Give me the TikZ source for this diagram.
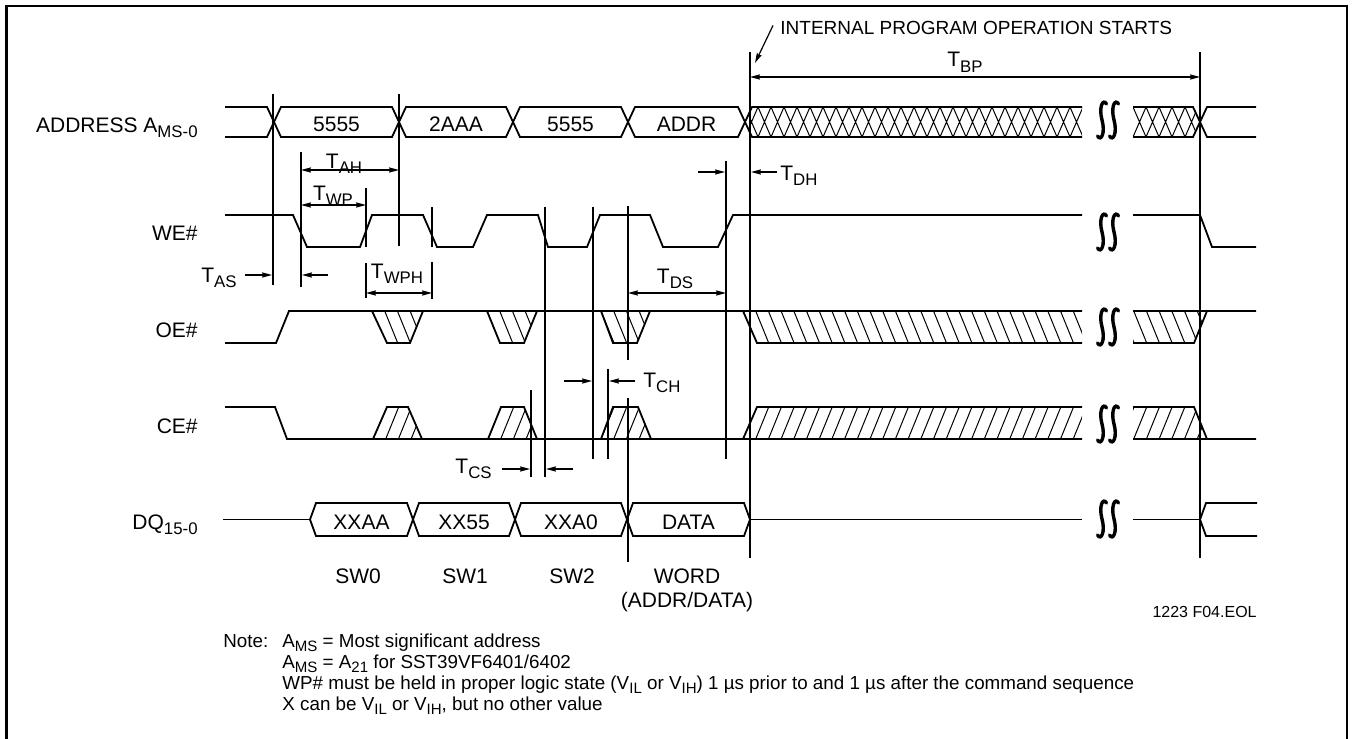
\documentclass[tikz,border=0pt]{standalone}
\usepackage{fontspec}
\setmainfont{Liberation Sans}
\usepackage{tikz}
\usetikzlibrary{arrows.meta,positioning}

\newcommand{\lo}[1]{\raisebox{-0.24em}{\scalebox{0.8}{#1}}}

\tikzset{
  sig/.style={line width=0.9pt,line join=miter},
  guide/.style={line width=0.6pt},
  hatch/.style={line width=0.5pt},
  dim/.style={line width=0.6pt},
  txt/.style={inner sep=0pt,font=\fontsize{10.5}{12}\selectfont},
  head/.style={inner sep=0pt,font=\fontsize{9.5}{11}\selectfont},
  note/.style={inner sep=0pt,font=\fontsize{9.4}{11}\selectfont},
  tag/.style={inner sep=0pt,font=\fontsize{8}{9}\selectfont},
  snip/.pic={
    \foreach \s in {-6,6}
      \draw[line width=1.7pt,line cap=round] (\s+4.5,-16) .. controls (\s+1,-22) and (\s-3.5,-13) .. (\s,0)
        .. controls (\s+3.5,13) and (\s-1,22) .. (\s-4.5,16);
  }
}

\begin{document}
\begin{tikzpicture}[x=0.5pt,y=-0.5pt,>={Stealth[length=5pt,width=2.6pt,inset=0.6pt]}]
	\useasboundingbox (0,0) rectangle (1352,738);
	\draw[line width=1.2pt] (6.5,745) -- (6.5,6) -- (1347,6) -- (1347,745);

	\node[txt,anchor=base east] (addr) at (198,132) {ADDRESS A\lo{MS-0}};
	\node[txt,anchor=base east] (we) at (198,240) {WE\#};
	\node[txt,anchor=base east] (oe) at (198,337) {OE\#};
	\node[txt,anchor=base east] (ce) at (198,433) {CE\#};
	\node[txt,anchor=base east] (dq) at (198,529) {DQ\lo{15-0}};

	% address bus
	\draw[sig] (225,107) -- (267,107) -- (274,122) -- (267,137) -- (225,137);
	\foreach \a/\b/\v/\n in {274/399/5555/va1,399/513/2AAA/va2,513/628/5555/va3,628/745/ADDR/va4}{
		\draw[sig] (\a,122) -- (\a+7,107) -- (\b-7,107) -- (\b,122) -- (\b-7,137) -- (\a+7,137) -- cycle;
		\node[txt,anchor=base] (\n) at ({(\a+\b)/2},131) {\v};
	}
	\begin{scope}
		\clip (745,122) -- (752,107) -- (1082,107) -- (1082,137) -- (752,137) -- cycle;
		\foreach \x in {745,758,...,1085} \draw[hatch] (\x,107) -- ++(13,30) (\x+13,107) -- ++(-13,30);
	\end{scope}
	\draw[sig] (1082,107) -- (752,107) -- (745,122) -- (752,137) -- (1082,137);
	\begin{scope}
		\clip (1133,107) -- (1193,107) -- (1200,122) -- (1193,137) -- (1133,137) -- cycle;
		\foreach \x in {1120,1133,...,1200} \draw[hatch] (\x,107) -- ++(13,30) (\x+13,107) -- ++(-13,30);
	\end{scope}
	\draw[sig] (1133,107) -- (1193,107) -- (1200,122) -- (1193,137) -- (1133,137);
	\draw[sig] (1256,107) -- (1207,107) -- (1200,122) -- (1207,137) -- (1256,137);

	% WE#
	\draw[sig] (225,215) -- (293,215) -- (307,247) -- (360,247) -- (372,215) -- (423,215) -- (437,247) -- (473,247)
		-- (487,215) -- (538,215) -- (548,247) -- (587,247) -- (600,215) -- (650,215) -- (663,247) -- (718,247)
		-- (733,215) -- (1082,215);
	\draw[sig] (1133,215) -- (1200,215) -- (1212,247) -- (1256,247);

	% OE#
	\draw[sig] (225,343) -- (276,343) -- (289,311) -- (1082,311);
	\foreach \a/\b/\c/\d in {372/387/410/423,487/500/524/537,601/613/637/650}{
		\begin{scope}
			\clip (\a,311) -- (\b,343) -- (\c,343) -- (\d,311) -- cycle;
			\foreach \k in {0,...,5} \draw[hatch] ({\a+12.7*\k},311) -- ++(13,32);
		\end{scope}
		\draw[sig] (\a,311) -- (\b,343) -- (\c,343) -- (\d,311);
	}
	\begin{scope}
		\clip (743,311) -- (757,343) -- (1082,343) -- (1082,311) -- cycle;
		\foreach \k in {0,...,27} \draw[hatch] ({743+12.7*\k},311) -- ++(13,32);
	\end{scope}
	\draw[sig] (743,311) -- (757,343) -- (1082,343);
	\begin{scope}
		\clip (1133,311) -- (1133,343) -- (1194,343) -- (1207,311) -- cycle;
		\foreach \k in {0,...,6} \draw[hatch] ({1121+12.7*\k},311) -- ++(13,32);
	\end{scope}
	\draw[sig] (1133,311) -- (1256,311) (1133,343) -- (1194,343) -- (1207,311);

	% CE#
	\draw[sig] (225,407) -- (275,407) -- (287,439) -- (1082,439);
	\foreach \a/\b/\c/\d in {373/387/408/422,488/501/524/537,601/613/638/651}{
		\begin{scope}
			\clip (\a,439) -- (\b,407) -- (\c,407) -- (\d,439) -- cycle;
			\foreach \k in {0,...,5} \draw[hatch] ({\a+12.7*\k},439) -- ++(13,-32);
		\end{scope}
		\draw[sig] (\a,439) -- (\b,407) -- (\c,407) -- (\d,439);
	}
	\begin{scope}
		\clip (743,439) -- (757,407) -- (1082,407) -- (1082,439) -- cycle;
		\foreach \k in {0,...,27} \draw[hatch] ({743+12.7*\k},439) -- ++(13,-32);
	\end{scope}
	\draw[sig] (743,439) -- (757,407) -- (1082,407);
	\begin{scope}
		\clip (1133,439) -- (1133,407) -- (1194,407) -- (1207,439) -- cycle;
		\foreach \k in {0,...,6} \draw[hatch] ({1121+12.7*\k},439) -- ++(13,-32);
	\end{scope}
	\draw[sig] (1133,439) -- (1256,439) (1133,407) -- (1194,407) -- (1207,439);

	% data bus
	\draw[sig] (223,519.5) -- (310,519.5);
	\foreach \a/\b/\v/\n in {310/413/XXAA/vd1,413/515/XX55/vd2,515/627/XXA0/vd3,627/750/DATA/vd4}{
		\draw[sig] (\a,519.5) -- (\a+6,503) -- (\b-6,503) -- (\b,519.5) -- (\b-6,536) -- (\a+6,536) -- cycle;
		\node[txt,anchor=base] (\n) at ({(\a+\b)/2},529) {\v};
	}
	\draw[sig] (750,519.5) -- (1082,519.5) (1133,519.5) -- (1200,519.5);
	\draw[sig] (1257,503) -- (1206,503) -- (1200,519.5) -- (1206,536) -- (1257,536);

	\foreach \y in {120,232,327,424,519} \pic at (1108,\y) {snip};

	% timing guides
	\draw[guide] (273,94) -- (273,285) (301,152) -- (301,287)
		(366,188) -- (366,247) (366,263) -- (366,298)
		(399,94) -- (399,246)
		(432,207) -- (432,247) (432,262) -- (432,299)
		(531,390) -- (531,477) (545,207) -- (545,477)
		(593,207) -- (593,459) (608,369) -- (608,459)
		(628,206) -- (628,360) (628,398) -- (628,562)
		(726,161) -- (726,459)
		(750,52) -- (750,558) (1200,52) -- (1200,558);

	\node[txt,anchor=base] (tah) at (344,168) {T\lo{AH}};
	\draw[dim,<->] (301,170) -- (399,170);
	\node[txt,anchor=base] (twp) at (333,200) {T\lo{WP}};
	\draw[dim,<->] (301,205) -- (366,205);
	\node[txt,anchor=base east] (tas) at (237,282) {T\lo{AS}};
	\draw[dim,->] (245,275) -- (272,275);
	\draw[dim,->] (328,275) -- (302,275);
	\node[txt,anchor=base] (twph) at (397,278) {T\lo{WPH}};
	\draw[dim,<->] (366,293) -- (432,293);
	\node[txt,anchor=base] (tds) at (675,283) {T\lo{DS}};
	\draw[dim,<->] (628,293) -- (726,293);
	\node[txt,anchor=base west] (tdh) at (780,180) {T\lo{DH}};
	\draw[dim,->] (698,172) -- (725,172);
	\draw[dim,->] (777,172) -- (751,172);
	\node[txt,anchor=base west] (tch) at (643,387) {T\lo{CH}};
	\draw[dim,->] (564,381) -- (592,381);
	\draw[dim,->] (635,381) -- (609,381);
	\node[txt,anchor=base east] (tcs) at (492,473) {T\lo{CS}};
	\draw[dim,->] (502,469) -- (530,469);
	\draw[dim,->] (573,469) -- (546,469);
	\node[txt,anchor=base] (tbp) at (965,67) {T\lo{BP}};
	\draw[dim,<->] (750,77) -- (1200,77);

	\node[head,anchor=base west] (ipos) at (780,35) {INTERNAL PROGRAM OPERATION STARTS};
	\coordinate (istart) at (755,63);
	\draw[dim,->] ([xshift=-3.5pt,yshift=1.5pt]ipos.west) -- (istart);

	\node[txt,anchor=base] (sw0) at (358,583) {SW0};
	\node[txt,anchor=base] (sw1) at (465,583) {SW1};
	\node[txt,anchor=base] (sw2) at (572,583) {SW2};
	\node[txt,anchor=base] (word) at (687,583) {WORD};
	\node[txt,inner sep=1pt] (wordsub) [below=3.2pt of word] {(ADDR/DATA)};
	\node[tag,anchor=base east] (fig) at (1257,617) {1223 F04.EOL};

	\node[note,anchor=base west] (nt) at (223,647) {Note:};
	\node[note,anchor=base west] (n1) at (282,647) {A\lo{MS} = Most significant address};
	\node[note,anchor=base west] (n2) at (282,668) {A\lo{MS} = A\lo{21} for SST39VF6401/6402};
	\node[note,anchor=base west] (n3) at (282,689) {WP\# must be held in proper logic state (V\lo{IL} or V\lo{IH}) 1 µs prior to and 1 µs after the command sequence};
	\node[note,anchor=base west] (n4) at (282,710) {X can be V\lo{IL} or V\lo{IH}, but no other value};
\end{tikzpicture}
\end{document}
